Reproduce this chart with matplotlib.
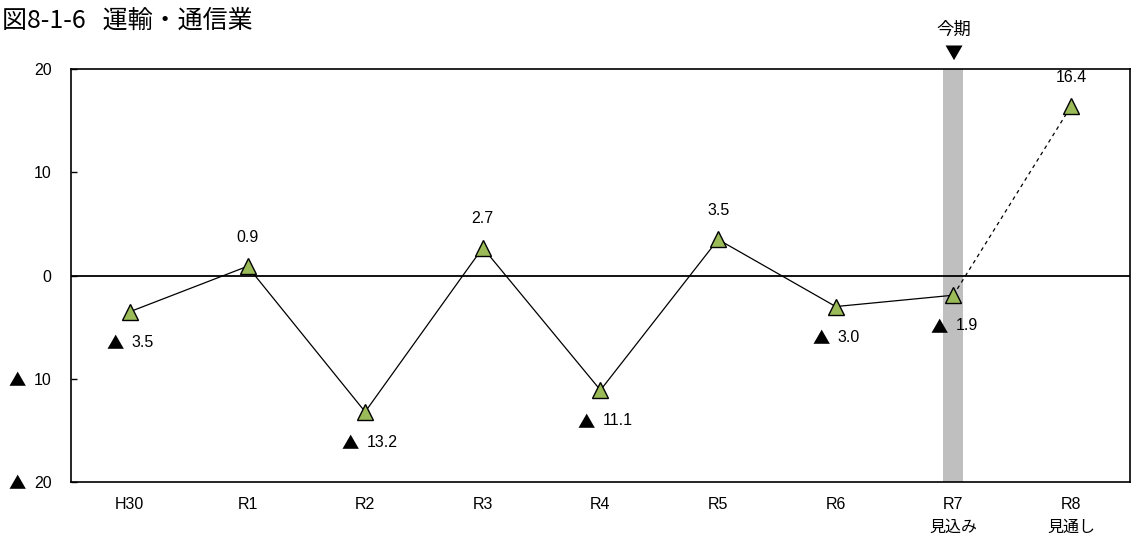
import matplotlib
matplotlib.use("Agg")
import matplotlib.pyplot as plt

plt.rcParams['font.family'] = ['Liberation Sans', 'Noto Sans CJK JP', 'DejaVu Sans']
CJK = ['Noto Sans CJK JP', 'DejaVu Sans']

categories = ["H30", "R1", "R2", "R3", "R4", "R5", "R6", "R7\n見込み", "R8\n見通し"]
values = [-3.5, 0.9, -13.2, 2.7, -11.1, 3.5, -3.0, -1.9, 16.4]
yticks = [20, 10, 0, -10, -20]
ytick_labels = ["20", "10", "0", "10", "20"]
title = "図8-1-6   運輸・通信業"
current_label = "今期"
current_idx = 7
NEG = "▲"

fig = plt.figure(figsize=(11.31, 5.49), dpi=100)
ax = fig.add_axes([0.0628, 0.122, 0.9362, 0.752])
x = list(range(len(categories)))

ax.axvspan(current_idx - 0.085, current_idx + 0.085, color="#bfbfbf", zorder=1, lw=0)
ax.axhline(0, color="black", lw=1.3, zorder=2)

ax.plot(x[:8], values[:8], color="black", lw=0.9, zorder=3)
ax.plot(x[7:], values[7:], color="black", lw=0.9, ls=(0, (3, 3)), zorder=3)
ax.plot(x, values, ls="none", marker="^", ms=12, mfc="#9bbb59", mec="black", mew=1.0, zorder=4)

for xi, v in zip(x, values):
    if v >= 0:
        ax.annotate(f"{v:.1f}", (xi, v), xytext=(0, 21), textcoords="offset points",
                    ha="center", va="center", fontsize=11.5)
    else:
        ax.annotate(NEG, (xi, v), xytext=(-10.5, -23.5), textcoords="offset points",
                    ha="center", va="center", fontsize=12.5, family=CJK)
        ax.annotate(f"{abs(v):.1f}", (xi, v), xytext=(1.5, -22), textcoords="offset points",
                    ha="left", va="center", fontsize=11.5)

ax.set_xlim(-0.5, len(categories) - 0.5)
ax.set_ylim(-20, 20)
ax.set_yticks(yticks)
ax.set_yticklabels(ytick_labels, fontsize=11.5)
for t in yticks:
    if t < 0:
        ax.annotate(NEG, (0, t), xycoords=("axes fraction", "data"), xytext=(-39, -1.5),
                    textcoords="offset points", ha="center", va="center", fontsize=12.5,
                    family=CJK, annotation_clip=False)
ax.set_xticks(x)
ax.set_xticklabels(categories, fontsize=11.5, linespacing=1.6)
ax.tick_params(axis="x", length=0, pad=11)
ax.tick_params(axis="y", direction="in", length=4, width=1, pad=14)
for s in ax.spines.values():
    s.set_linewidth(1.2)

fig.text(0.002, 0.962, title, fontsize=18, ha="left", va="center", family=CJK)
ax.annotate(current_label, (current_idx, 20), xytext=(0, 28), textcoords="offset points",
            ha="center", va="center", fontsize=12.5, annotation_clip=False, family=CJK)
ax.annotate("▼", (current_idx, 20), xytext=(0, 11), textcoords="offset points",
            ha="center", va="center", fontsize=13, annotation_clip=False, family=CJK)

fig.savefig("out.png", dpi=100)
